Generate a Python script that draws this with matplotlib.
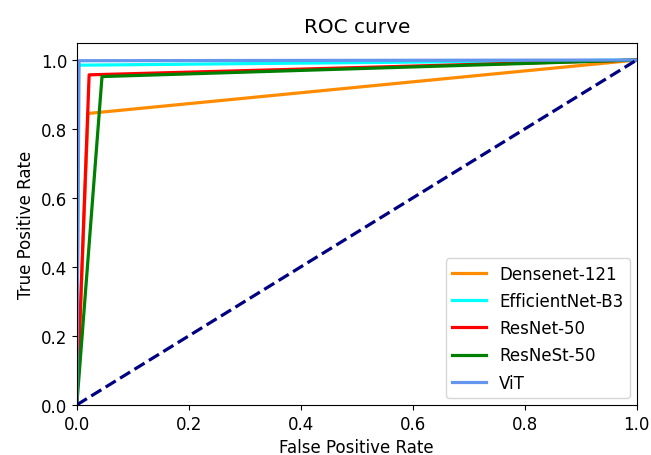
import matplotlib
matplotlib.use("Agg")
import matplotlib.pyplot as plt

names = ["Densenet-121", "EfficientNet-B3", "ResNet-50", "ResNeSt-50", "ViT"]
colors = ["darkorange", "cyan", "red", "green", "cornflowerblue"]
fpr = [
    [0.0, 0.02, 1.0],
    [0.0, 0.003, 1.0],
    [0.0, 0.022, 1.0],
    [0.0, 0.045, 1.0],
    [0.0, 0.004, 1.0],
]
tpr = [
    [0.0, 0.845, 1.0],
    [0.0, 0.985, 1.0],
    [0.0, 0.957, 1.0],
    [0.0, 0.952, 1.0],
    [0.0, 0.998, 1.0],
]

plt.rcParams["font.size"] = 12
fig = plt.figure(figsize=(6.51, 4.56), dpi=100)
ax = fig.add_axes([0.118, 0.110, 0.860, 0.794])

for name, c, x, y in zip(names, colors, fpr, tpr):
    ax.plot(x, y, color=c, lw=2.3, label=name)
ax.plot([0, 1], [0, 1], color="navy", lw=2.3, linestyle="--")

ax.set_xlim(0.0, 1.0)
ax.set_ylim(0.0, 1.05)
ax.set_xlabel("False Positive Rate")
ax.set_ylabel("True Positive Rate")
ax.set_title("ROC curve", pad=8)
ax.legend(loc="lower right", borderaxespad=0.4, labelspacing=0.55)

fig.savefig("out.png", dpi=100)
